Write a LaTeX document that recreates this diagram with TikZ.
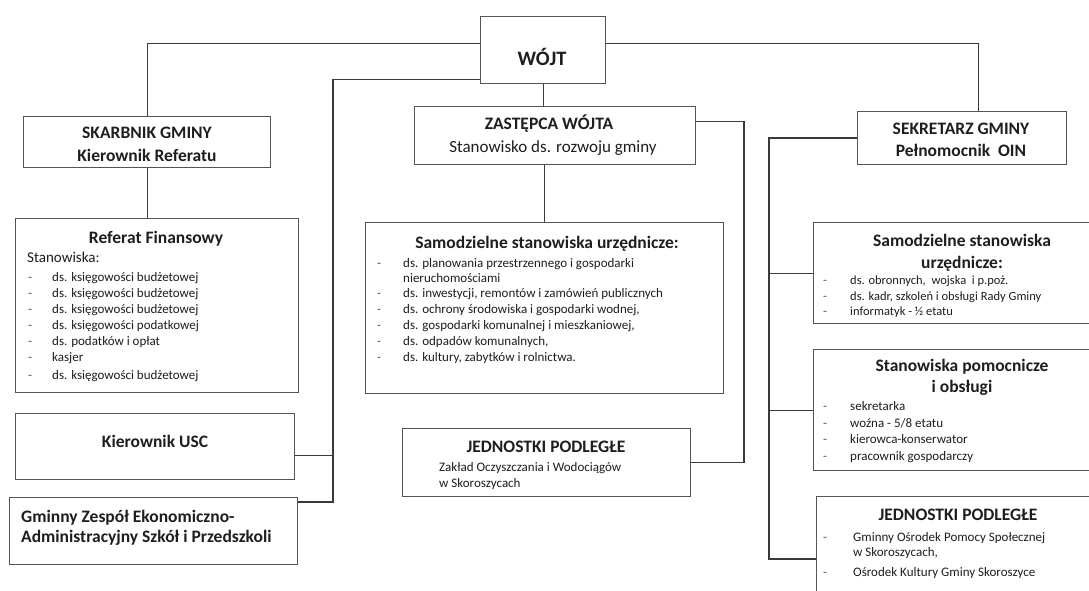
\documentclass[tikz,border=0pt]{standalone}
\usepackage{fontspec}
\setmainfont{Carlito}
\definecolor{boxc}{HTML}{555555}
\definecolor{linec}{HTML}{3A3A3A}
\definecolor{txt}{HTML}{1E1E1E}
\definecolor{dashc}{HTML}{555555}
\tikzset{
  box/.style={draw=boxc, line width=1.2pt, rectangle, inner sep=0pt, anchor=north west},
  conn/.style={draw=linec, line width=1.2pt},
  ttl/.style={font=\fontsize{17.5}{21}\selectfont\bfseries, text=txt, inner sep=0pt, anchor=base},
  ttlw/.style={font=\fontsize{17.5}{21}\selectfont\bfseries, text=txt, inner sep=0pt, anchor=base west},
  sub/.style={font=\fontsize{17}{20}\selectfont, text=txt, inner sep=0pt, anchor=base},
  itm/.style={font=\fontsize{13}{15}\selectfont, text=txt, inner sep=0pt, anchor=base west},
  itms/.style={font=\fontsize{12.5}{15}\selectfont, text=txt, inner sep=0pt, anchor=base west},
  dsh/.style={font=\fontsize{13}{15}\selectfont, text=dashc, inner sep=0pt, anchor=base west},
}
\begin{document}
\begin{tikzpicture}[x=1pt,y=-1pt]
\useasboundingbox (0,0) rectangle (1089,591);
\clip (0,0) rectangle (1089,591);
\fill[white] (0,0) rectangle (1089,591);

% boxes
\node[box, minimum width=125pt, minimum height=67pt] (wojt) at (480,16) {};
\node[box, minimum width=247pt, minimum height=51pt] (skarb) at (23,116) {};
\node[box, minimum width=281pt, minimum height=58pt] (zast) at (414,106) {};
\node[box, minimum width=209pt, minimum height=53pt] (sekr) at (857,111) {};
\node[box, minimum width=283pt, minimum height=174pt] (ref) at (15,218) {};
\node[box, minimum width=279pt, minimum height=66pt] (usc) at (15,413) {};
\node[box, minimum width=288pt, minimum height=67pt] (gzeas) at (9,497) {};
\node[box, minimum width=358pt, minimum height=171pt] (samo) at (365,222) {};
\node[box, minimum width=288pt, minimum height=68pt] (jedn1) at (402,428) {};
\node[box, minimum width=300pt, minimum height=101pt] (samo2) at (813,222) {};
\node[box, minimum width=300pt, minimum height=121pt] (pomoc) at (813,349) {};
\node[box, minimum width=300pt, minimum height=130pt] (jedn2) at (816,496) {};

% connectors
\coordinate (lv) at (333,0);
\coordinate (mv) at (744,0);
\coordinate (rv) at (769,0);
\coordinate (gzc) at ([yshift=-5pt]gzeas.north east);
\coordinate (uscc) at ([yshift=-9pt]usc.east);
\coordinate (zc) at ([yshift=14pt]zast.east);
\coordinate (j2c) at ([yshift=-63pt]jedn2.north west);

\draw[conn] ([yshift=6.5pt]wojt.west) -| (skarb.north);
\draw[conn] ([yshift=6.5pt]wojt.east) -| ([xshift=16pt]sekr.north);
\draw[conn] ([yshift=5pt]wojt.south west) -| (lv |- gzc) -- (gzc);
\draw[conn] (uscc) -- (lv |- uscc);
\draw[conn] (wojt.south) -- (wojt.south |- zast.north);
\draw[conn] (zc) -| (mv |- jedn1.east) -- (jedn1.east);
\draw[conn] (samo.north |- zast.south) -- (samo.north);
\draw[conn] (skarb.south) -- (skarb.south |- ref.north);
\draw[conn] (sekr.west) -| (rv |- j2c) -- (j2c);
\draw[conn] (samo2.west -| rv) -- (samo2.west);
\draw[conn] (pomoc.west -| rv) -- (pomoc.west);

% texts
\node[font=\fontsize{20.5}{24}\selectfont\bfseries, text=txt, inner sep=0pt, anchor=base] (wojt-t) at (542,66) {WÓJT};

\node[ttl] (skarb-t1) at (147,139) {SKARBNIK GMINY};
\node[ttl] (skarb-t2) at (147,161) {Kierownik Referatu};

\node[ttl] (zast-t1) at (549,129) {ZASTĘPCA WÓJTA};
\node[sub] (zast-t2) at (553,153) {Stanowisko ds. rozwoju gminy};

\node[ttl] (sekr-t1) at (961,135) {SEKRETARZ GMINY};
\node[ttl] (sekr-t2) at (961,156) {Pełnomocnik\ \ OIN};

% Referat Finansowy
\node[ttl] (ref-t) at (156,243) {Referat Finansowy};
\node[font=\fontsize{15}{18}\selectfont, text=txt, inner sep=0pt, anchor=base west] (ref-s) at (27,262) {Stanowiska:};
\foreach \yy/\tt [count=\i] in {281/{ds. księgowości budżetowej}, 297/{ds. księgowości budżetowej}, 313/{ds. księgowości budżetowej}, 329/{ds. księgowości podatkowej}, 345/{ds. podatków i opłat}, 361/{kasjer}, 379/{ds. księgowości budżetowej}}{
  \node[dsh] (ref-d\i) at (28,\yy) {-};
  \node[itm] (ref-i\i) at (52,\yy) {\tt};
}

% Samodzielne (middle)
\node[ttl] (samo-t) at (547,248) {Samodzielne stanowiska urzędnicze:};
\foreach \yy/\tt [count=\i] in {267/{ds. planowania przestrzennego i gospodarki}, 297/{ds. inwestycji, remontów i zamówień publicznych}, 313/{ds. ochrony środowiska i gospodarki wodnej,}, 329/{ds. gospodarki komunalnej i mieszkaniowej,}, 345/{ds. odpadów komunalnych,}, 361/{ds. kultury, zabytków i rolnictwa.}}{
  \node[dsh] (samo-d\i) at (377,\yy) {-};
  \node[itm] (samo-i\i) at (403,\yy) {\tt};
}
\node[itm] (samo-i1b) at (403,282) {nieruchomościami};

% Kierownik USC
\node[ttl] (usc-t) at (155,447) {Kierownik USC};

% Gminny Zespol
\node[ttlw] (gz-t1) at (21,522) {Gminny Zespół Ekonomiczno-};
\node[ttlw] (gz-t2) at (21,542) {Administracyjny Szkół i Przedszkoli};

% Jednostki podlegle (middle)
\node[ttl] (j1-t) at (546,452) {JEDNOSTKI PODLEGŁE};
\node[itm] (j1-i1) at (439,471) {Zakład Oczyszczania i Wodociągów};
\node[itm] (j1-i2) at (439,487) {w Skoroszycach};

% Samodzielne (right)
\node[ttl] (s2-t1) at (962,246) {Samodzielne stanowiska};
\node[ttl] (s2-t2) at (962,268) {urzędnicze:};
\foreach \yy/\tt [count=\i] in {284/{ds. obronnych,\ \ wojska\ \ i p.poż.}, 300/{ds. kadr, szkoleń i obsługi Rady Gminy}, 315/{informatyk - ½ etatu}}{
  \node[dsh] (s2-d\i) at (823,\yy) {-};
  \node[itms] (s2-i\i) at (850,\yy) {\tt};
}

% Stanowiska pomocnicze
\node[ttl] (p-t1) at (962,371) {Stanowiska pomocnicze};
\node[ttl] (p-t2) at (962,392) {i obsługi};
\foreach \yy/\tt [count=\i] in {410/{sekretarka}, 427/{woźna - 5/8 etatu}, 443/{kierowca-konserwator}, 460/{pracownik gospodarczy}}{
  \node[dsh] (p-d\i) at (823,\yy) {-};
  \node[itm] (p-i\i) at (850,\yy) {\tt};
}

% Jednostki podlegle (right)
\node[ttl] (j2-t) at (958,520) {JEDNOSTKI PODLEGŁE};
\node[dsh] (j2-d1) at (823,541) {-};
\node[itm] (j2-i1) at (853,541) {Gminny Ośrodek Pomocy Społecznej};
\node[itm] (j2-i1b) at (853,556) {w Skoroszycach,};
\node[dsh] (j2-d2) at (823,576) {-};
\node[itm] (j2-i2) at (853,576) {Ośrodek Kultury Gminy Skoroszyce};
\end{tikzpicture}
\end{document}
